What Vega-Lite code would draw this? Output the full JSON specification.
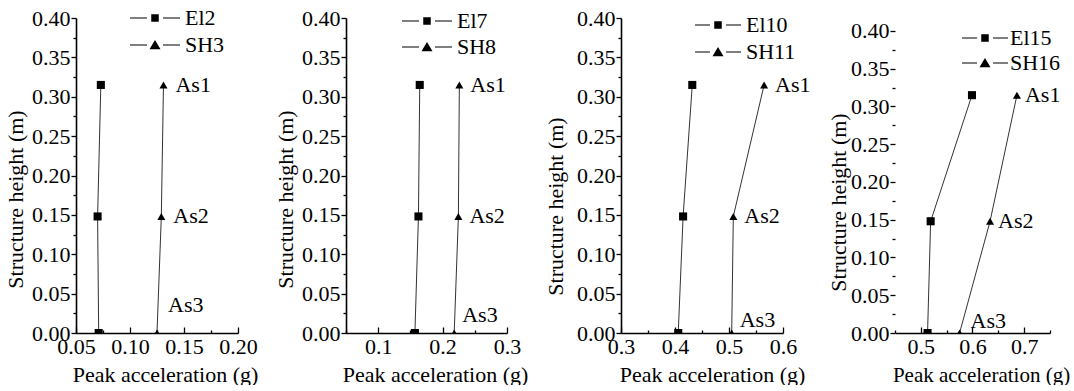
{
  "$schema": "https://vega.github.io/schema/vega-lite/v6.json",
  "background": "white",
  "padding": {"left": 4, "top": 7, "right": 0, "bottom": 0},
  "spacing": 16,
  "datasets": {
    "pts": [
      {"panel": 1, "series": "El2", "acc": 0.073, "h": 0.315, "label": ""},
      {"panel": 1, "series": "El2", "acc": 0.070, "h": 0.148, "label": ""},
      {"panel": 1, "series": "El2", "acc": 0.071, "h": 0.0, "label": ""},
      {"panel": 1, "series": "SH3", "acc": 0.131, "h": 0.315, "label": "As1"},
      {"panel": 1, "series": "SH3", "acc": 0.129, "h": 0.148, "label": "As2"},
      {"panel": 1, "series": "SH3", "acc": 0.125, "h": 0.0, "label": "As3"},
      {"panel": 2, "series": "El7", "acc": 0.1645, "h": 0.315, "label": ""},
      {"panel": 2, "series": "El7", "acc": 0.1625, "h": 0.148, "label": ""},
      {"panel": 2, "series": "El7", "acc": 0.157, "h": 0.0, "label": ""},
      {"panel": 2, "series": "SH8", "acc": 0.226, "h": 0.315, "label": "As1"},
      {"panel": 2, "series": "SH8", "acc": 0.2245, "h": 0.148, "label": "As2"},
      {"panel": 2, "series": "SH8", "acc": 0.218, "h": 0.0, "label": "As3"},
      {"panel": 3, "series": "El10", "acc": 0.432, "h": 0.315, "label": ""},
      {"panel": 3, "series": "El10", "acc": 0.415, "h": 0.148, "label": ""},
      {"panel": 3, "series": "El10", "acc": 0.406, "h": 0.0, "label": ""},
      {"panel": 3, "series": "SH11", "acc": 0.565, "h": 0.315, "label": "As1"},
      {"panel": 3, "series": "SH11", "acc": 0.508, "h": 0.148, "label": "As2"},
      {"panel": 3, "series": "SH11", "acc": 0.505, "h": 0.0, "label": "As3"},
      {"panel": 4, "series": "El15", "acc": 0.599, "h": 0.315, "label": ""},
      {"panel": 4, "series": "El15", "acc": 0.519, "h": 0.148, "label": ""},
      {"panel": 4, "series": "El15", "acc": 0.513, "h": 0.0, "label": ""},
      {"panel": 4, "series": "SH16", "acc": 0.686, "h": 0.315, "label": "As1"},
      {"panel": 4, "series": "SH16", "acc": 0.634, "h": 0.148, "label": "As2"},
      {"panel": 4, "series": "SH16", "acc": 0.575, "h": 0.0, "label": "As3"}
    ]
  },
  "hconcat": [
    {
      "width": 162, "height": 315,
      "data": {"name": "pts"},
      "transform": [{"filter": "datum.panel == 1"}],
      "encoding": {
        "x": {"field": "acc", "type": "quantitative", "scale": {"domain": [0.05, 0.2], "nice": false, "zero": false},
          "axis": {"title": "Peak acceleration (g)", "values": [0.05, 0.075, 0.1, 0.125, 0.15, 0.175, 0.2],
            "labelExpr": "abs(datum.value*20 - round(datum.value*20)) < 0.01 ? format(datum.value, '.2f') : ''",
            "tickSize": {"condition": {"test": "abs(datum.value*20 - round(datum.value*20)) < 0.01", "value": -6}, "value": -3},
            "labelPadding": 9, "titleX": 89, "titlePadding": 4}},
        "y": {"field": "h", "type": "quantitative", "scale": {"domain": [0, 0.4], "nice": false},
          "axis": {"title": "Structure height (m)", "values": [0, 0.025, 0.05, 0.075, 0.1, 0.125, 0.15, 0.175, 0.2, 0.225, 0.25, 0.275, 0.3, 0.325, 0.35, 0.375, 0.4],
            "labelExpr": "abs(datum.value*20 - round(datum.value*20)) < 0.01 ? format(datum.value, '.2f') : ''",
            "tickSize": {"condition": {"test": "abs(datum.value*20 - round(datum.value*20)) < 0.01", "value": 5}, "value": 3},
            "labelPadding": 1, "titleY": 181, "titlePadding": 4}}
      },
      "layer": [
        {"mark": {"type": "line", "color": "#333333", "strokeWidth": 1, "clip": true},
          "encoding": {"detail": {"field": "series"}, "order": {"field": "h", "type": "quantitative"}}},
        {"mark": {"type": "point", "filled": true, "color": "black", "opacity": 1, "size": 65, "clip": true},
          "encoding": {"shape": {"field": "series", "type": "nominal", "scale": {"domain": ["El2", "SH3"], "range": ["square", "triangle-up"]}, "legend": null}}},
        {"mark": {"type": "point", "filled": true, "color": "black", "size": 0, "opacity": 1},
          "encoding": {"shape": {"field": "series", "type": "nominal",
            "scale": {"domain": ["El2", "SH3"], "range": ["M-5,-0.11H-1.6V0.11H-5ZM-0.75,-0.75H0.75V0.75H-0.75ZM1.6,-0.11H5V0.11H1.6Z", "M-5,-0.11H-1.6V0.11H-5ZM0,-1L1.1,0.85H-1.1ZM1.6,-0.11H5V0.11H1.6Z"]},
            "legend": {"title": null, "orient": "none", "legendX": 68, "legendY": -11, "padding": 0, "symbolSize": 100, "symbolOpacity": 1, "labelOffset": 19, "rowPadding": 5}}}},
        {"transform": [{"filter": "datum.label == 'As1' || datum.label == 'As2'"}],
          "mark": {"type": "text", "align": "left", "baseline": "middle", "dx": 12, "fontSize": 22, "font": "Liberation Serif", "color": "black"},
          "encoding": {"text": {"field": "label"}}},
        {"transform": [{"filter": "datum.label == 'As3'"}],
          "mark": {"type": "text", "align": "left", "baseline": "middle", "dx": 11, "dy": -28, "fontSize": 22, "font": "Liberation Serif", "color": "black"},
          "encoding": {"text": {"field": "label"}}}
      ],
      "resolve": {"scale": {"shape": "independent"}}
    },
    {
      "width": 161, "height": 315,
      "data": {"name": "pts"},
      "transform": [{"filter": "datum.panel == 2"}],
      "encoding": {
        "x": {"field": "acc", "type": "quantitative", "scale": {"domain": [0.05, 0.3], "nice": false, "zero": false},
          "axis": {"title": "Peak acceleration (g)", "values": [0.05, 0.1, 0.15, 0.2, 0.25, 0.3],
            "labelExpr": "abs(datum.value*10 - round(datum.value*10)) < 0.01 ? format(datum.value, '.1f') : ''",
            "tickSize": {"condition": {"test": "abs(datum.value*10 - round(datum.value*10)) < 0.01", "value": -6}, "value": -3},
            "labelPadding": 9, "titleX": 89, "titlePadding": 4}},
        "y": {"field": "h", "type": "quantitative", "scale": {"domain": [0, 0.4], "nice": false},
          "axis": {"title": "Structure height (m)", "values": [0, 0.025, 0.05, 0.075, 0.1, 0.125, 0.15, 0.175, 0.2, 0.225, 0.25, 0.275, 0.3, 0.325, 0.35, 0.375, 0.4],
            "labelExpr": "abs(datum.value*20 - round(datum.value*20)) < 0.01 ? format(datum.value, '.2f') : ''",
            "tickSize": {"condition": {"test": "abs(datum.value*20 - round(datum.value*20)) < 0.01", "value": 5}, "value": 3},
            "labelPadding": 1, "titleY": 181, "titlePadding": 4}}
      },
      "layer": [
        {"mark": {"type": "line", "color": "#333333", "strokeWidth": 1, "clip": true},
          "encoding": {"detail": {"field": "series"}, "order": {"field": "h", "type": "quantitative"}}},
        {"mark": {"type": "point", "filled": true, "color": "black", "opacity": 1, "size": 65, "clip": true},
          "encoding": {"shape": {"field": "series", "type": "nominal", "scale": {"domain": ["El7", "SH8"], "range": ["square", "triangle-up"]}, "legend": null}}},
        {"mark": {"type": "point", "filled": true, "color": "black", "size": 0, "opacity": 1},
          "encoding": {"shape": {"field": "series", "type": "nominal",
            "scale": {"domain": ["El7", "SH8"], "range": ["M-5,-0.11H-1.6V0.11H-5ZM-0.75,-0.75H0.75V0.75H-0.75ZM1.6,-0.11H5V0.11H1.6Z", "M-5,-0.11H-1.6V0.11H-5ZM0,-1L1.1,0.85H-1.1ZM1.6,-0.11H5V0.11H1.6Z"]},
            "legend": {"title": null, "orient": "none", "legendX": 70, "legendY": -8, "padding": 0, "symbolSize": 100, "symbolOpacity": 1, "labelOffset": 19, "rowPadding": 4}}}},
        {"transform": [{"filter": "datum.label == 'As1' || datum.label == 'As2'"}],
          "mark": {"type": "text", "align": "left", "baseline": "middle", "dx": 11, "fontSize": 22, "font": "Liberation Serif", "color": "black"},
          "encoding": {"text": {"field": "label"}}},
        {"transform": [{"filter": "datum.label == 'As3'"}],
          "mark": {"type": "text", "align": "left", "baseline": "middle", "dx": 8, "dy": -18, "fontSize": 22, "font": "Liberation Serif", "color": "black"},
          "encoding": {"text": {"field": "label"}}}
      ],
      "resolve": {"scale": {"shape": "independent"}}
    },
    {
      "width": 162, "height": 315,
      "data": {"name": "pts"},
      "transform": [{"filter": "datum.panel == 3"}],
      "encoding": {
        "x": {"field": "acc", "type": "quantitative", "scale": {"domain": [0.3, 0.6], "nice": false, "zero": false},
          "axis": {"title": "Peak acceleration (g)", "values": [0.3, 0.35, 0.4, 0.45, 0.5, 0.55, 0.6],
            "labelExpr": "abs(datum.value*10 - round(datum.value*10)) < 0.01 ? format(datum.value, '.1f') : ''",
            "tickSize": {"condition": {"test": "abs(datum.value*10 - round(datum.value*10)) < 0.01", "value": -6}, "value": -3},
            "labelPadding": 9, "titleX": 91, "titlePadding": 4}},
        "y": {"field": "h", "type": "quantitative", "scale": {"domain": [0, 0.4], "nice": false},
          "axis": {"title": "Structure height (m)", "values": [0, 0.025, 0.05, 0.075, 0.1, 0.125, 0.15, 0.175, 0.2, 0.225, 0.25, 0.275, 0.3, 0.325, 0.35, 0.375, 0.4],
            "labelExpr": "abs(datum.value*20 - round(datum.value*20)) < 0.01 ? format(datum.value, '.2f') : ''",
            "tickSize": {"condition": {"test": "abs(datum.value*20 - round(datum.value*20)) < 0.01", "value": 5}, "value": 3},
            "labelPadding": 1, "titleY": 188, "titlePadding": 9}}
      },
      "layer": [
        {"mark": {"type": "line", "color": "#333333", "strokeWidth": 1, "clip": true},
          "encoding": {"detail": {"field": "series"}, "order": {"field": "h", "type": "quantitative"}}},
        {"mark": {"type": "point", "filled": true, "color": "black", "opacity": 1, "size": 65, "clip": true},
          "encoding": {"shape": {"field": "series", "type": "nominal", "scale": {"domain": ["El10", "SH11"], "range": ["square", "triangle-up"]}, "legend": null}}},
        {"mark": {"type": "point", "filled": true, "color": "black", "size": 0, "opacity": 1},
          "encoding": {"shape": {"field": "series", "type": "nominal",
            "scale": {"domain": ["El10", "SH11"], "range": ["M-4.6,-0.11H-1.6V0.11H-4.6ZM-0.75,-0.75H0.75V0.75H-0.75ZM1.6,-0.11H4.6V0.11H1.6Z", "M-4.6,-0.11H-1.6V0.11H-4.6ZM0,-1L1.1,0.85H-1.1ZM1.6,-0.11H4.6V0.11H1.6Z"]},
            "legend": {"title": null, "orient": "none", "legendX": 86, "legendY": -4, "padding": 0, "symbolSize": 100, "symbolOpacity": 1, "labelOffset": 17, "rowPadding": 5}}}},
        {"transform": [{"filter": "datum.label == 'As1' || datum.label == 'As2'"}],
          "mark": {"type": "text", "align": "left", "baseline": "middle", "dx": 11, "fontSize": 22, "font": "Liberation Serif", "color": "black"},
          "encoding": {"text": {"field": "label"}}},
        {"transform": [{"filter": "datum.label == 'As3'"}],
          "mark": {"type": "text", "align": "left", "baseline": "middle", "dx": 8, "dy": -13, "fontSize": 22, "font": "Liberation Serif", "color": "black"},
          "encoding": {"text": {"field": "label"}}}
      ],
      "resolve": {"scale": {"shape": "independent"}}
    },
    {
      "width": 155, "height": 315,
      "data": {"name": "pts"},
      "transform": [{"filter": "datum.panel == 4"}],
      "encoding": {
        "x": {"field": "acc", "type": "quantitative", "scale": {"domain": [0.45, 0.75], "nice": false, "zero": false},
          "axis": {"title": "Peak acceleration (g)", "values": [0.45, 0.5, 0.55, 0.6, 0.65, 0.7, 0.75],
            "labelExpr": "abs(datum.value*10 - round(datum.value*10)) < 0.01 ? format(datum.value, '.1f') : ''",
            "tickSize": {"condition": {"test": "abs(datum.value*10 - round(datum.value*10)) < 0.01", "value": -6}, "value": -3},
            "labelPadding": 9, "titleX": 86, "titlePadding": 4, "titleFontSize": 21}},
        "y": {"field": "h", "type": "quantitative", "scale": {"domain": [0, 0.4172], "nice": false},
          "axis": {"title": "Structure height (m)", "domain": false, "values": [0, 0.025, 0.05, 0.075, 0.1, 0.125, 0.15, 0.175, 0.2, 0.225, 0.25, 0.275, 0.3, 0.325, 0.35, 0.375, 0.4],
            "labelExpr": "abs(datum.value*20 - round(datum.value*20)) < 0.01 ? format(datum.value, '.2f') : ''",
            "tickSize": {"condition": {"test": "abs(datum.value*20 - round(datum.value*20)) < 0.01", "value": 5}, "value": 3},
            "labelPadding": 1, "titleY": 184, "titlePadding": 0}}
      },
      "layer": [
        {"data": {"values": [{}]},
          "mark": {"type": "rule", "color": "black", "strokeWidth": 1.6},
          "encoding": {"x": {"datum": 0.45}, "y": {"datum": 0}, "y2": {"datum": 0.4}}},
        {"mark": {"type": "line", "color": "#333333", "strokeWidth": 1, "clip": true},
          "encoding": {"detail": {"field": "series"}, "order": {"field": "h", "type": "quantitative"}}},
        {"mark": {"type": "point", "filled": true, "color": "black", "opacity": 1, "size": 65, "clip": true},
          "encoding": {"shape": {"field": "series", "type": "nominal", "scale": {"domain": ["El15", "SH16"], "range": ["square", "triangle-up"]}, "legend": null}}},
        {"mark": {"type": "point", "filled": true, "color": "black", "size": 0, "opacity": 1},
          "encoding": {"shape": {"field": "series", "type": "nominal",
            "scale": {"domain": ["El15", "SH16"], "range": ["M-4.6,-0.11H-1.6V0.11H-4.6ZM-0.75,-0.75H0.75V0.75H-0.75ZM1.6,-0.11H4.6V0.11H1.6Z", "M-4.6,-0.11H-1.6V0.11H-4.6ZM0,-1L1.1,0.85H-1.1ZM1.6,-0.11H4.6V0.11H1.6Z"]},
            "legend": {"title": null, "orient": "none", "legendX": 79, "legendY": 9, "padding": 0, "symbolSize": 100, "symbolOpacity": 1, "labelOffset": 14, "rowPadding": 3}}}},
        {"transform": [{"filter": "datum.label == 'As1' || datum.label == 'As2'"}],
          "mark": {"type": "text", "align": "left", "baseline": "middle", "dx": 8, "fontSize": 22, "font": "Liberation Serif", "color": "black"},
          "encoding": {"text": {"field": "label"}}},
        {"transform": [{"filter": "datum.label == 'As3'"}],
          "mark": {"type": "text", "align": "left", "baseline": "middle", "dx": 11, "dy": -12, "fontSize": 22, "font": "Liberation Serif", "color": "black"},
          "encoding": {"text": {"field": "label"}}}
      ],
      "resolve": {"scale": {"shape": "independent"}}
    }
  ],
  "resolve": {
    "scale": {"x": "independent", "y": "independent", "shape": "independent"},
    "legend": {"shape": "independent"}
  },
  "config": {
    "view": {"stroke": null},
    "font": "Liberation Serif",
    "axis": {
      "grid": false, "domainColor": "black", "domainWidth": 1.6, "tickColor": "black", "tickWidth": 1.3,
      "labelFont": "Liberation Serif", "labelFontSize": 22, "labelColor": "black", "labelOverlap": false, "labelFlush": false, "labelBound": false,
      "titleFont": "Liberation Serif", "titleFontSize": 22, "titleFontWeight": "normal", "titleColor": "black"
    },
    "legend": {"labelFont": "Liberation Serif", "labelFontSize": 22, "labelColor": "black", "labelLimit": 0}
  }
}
